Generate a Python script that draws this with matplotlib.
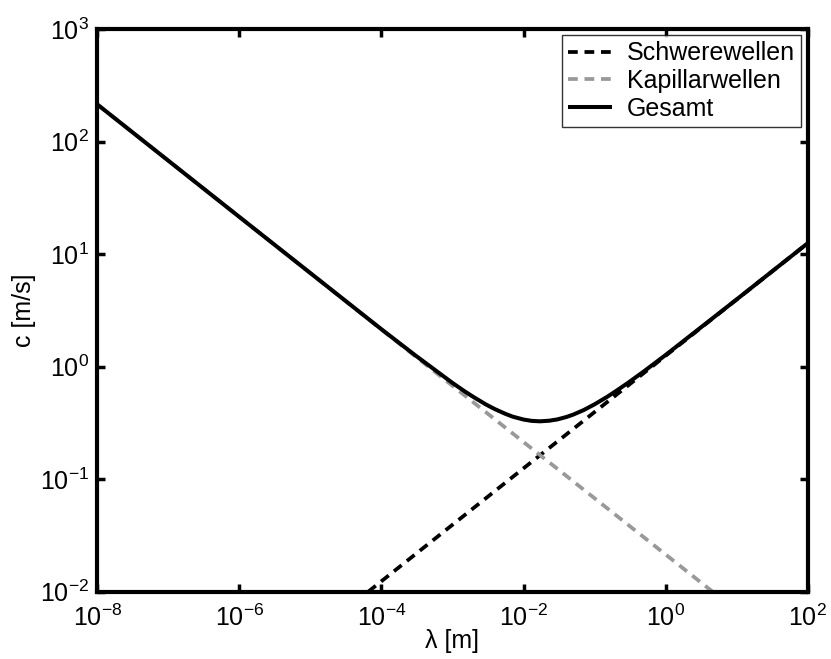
import matplotlib
matplotlib.use("Agg")
import matplotlib.pyplot as plt

plt.rcParams['font.family'] = ['Liberation Sans', 'DejaVu Sans']
plt.rcParams['mathtext.fontset'] = 'custom'
plt.rcParams['mathtext.rm'] = 'Liberation Sans'
plt.rcParams['mathtext.it'] = 'Liberation Sans'
plt.rcParams['mathtext.default'] = 'regular'

# Data (wavelength in m, phase speed in m/s)
grav_lambda = [6.5e-5, 1e-2, 1.0, 100.0]
grav_c = [0.0100, 0.125, 1.25, 12.5]

cap_lambda = [1e-8, 1e-4, 1e-2, 4.6]
cap_c = [214.0, 2.14, 0.214, 0.0100]

total_lambda = [1e-8, 1e-6, 1e-4, 3e-4, 1e-3, 1.5e-3, 2e-3, 3e-3, 4e-3, 5.5e-3,
                7e-3, 1e-2, 1.3e-2, 1.7e-2, 2.3e-2, 3e-2, 4e-2, 5e-2, 7e-2,
                0.1, 0.15, 0.2, 0.3, 0.5, 1.0, 10.0, 100.0]
total_c = [214.0, 21.4, 2.15, 1.26, 0.717, 0.601, 0.535, 0.459, 0.418, 0.382,
           0.360, 0.339, 0.330, 0.327, 0.331, 0.340, 0.357, 0.375, 0.411,
           0.463, 0.539, 0.607, 0.723, 0.913, 1.27, 3.96, 12.5]

xticks = [1e-8, 1e-6, 1e-4, 1e-2, 1e0, 1e2]
xticklabels = ['$10^{-8}$', '$10^{-6}$', '$10^{-4}$', '$10^{-2}$', '$10^{0}$', '$10^{2}$']
yticks = [1e-2, 1e-1, 1e0, 1e1, 1e2, 1e3]
yticklabels = ['$10^{-2}$', '$10^{-1}$', '$10^{0}$', '$10^{1}$', '$10^{2}$', '$10^{3}$']

fig = plt.figure(figsize=(8.31, 6.59), dpi=100)
ax = fig.add_axes([0.117, 0.102, 0.855, 0.854])

dash = (0, (2.6, 1.8))
ax.plot(grav_lambda, grav_c, color='black', lw=2.7, ls=dash,
        label='Schwerewellen')
ax.plot(cap_lambda, cap_c, color='#999999', lw=2.7, ls=dash,
        label='Kapillarwellen')
ax.plot(total_lambda, total_c, color='black', lw=2.9, solid_capstyle='butt',
        label='Gesamt')

ax.set_xscale('log')
ax.set_yscale('log')
ax.set_xlim(1e-8, 1e2)
ax.set_ylim(1e-2, 1e3)
ax.set_xticks(xticks)
ax.set_xticklabels(xticklabels)
ax.set_yticks(yticks)
ax.set_yticklabels(yticklabels)
ax.minorticks_off()
ax.tick_params(which='major', direction='in', length=6, width=2.5,
               top=True, right=True, labelsize=18)
ax.tick_params(axis='x', pad=9)
ax.tick_params(axis='y', pad=6)
for s in ax.spines.values():
    s.set_linewidth(3)

ax.set_xlabel('λ [m]', fontsize=18, labelpad=-1)
ax.set_ylabel('c [m/s]', fontsize=18, labelpad=3)

leg = ax.legend(loc='upper right', fontsize=18, frameon=True, fancybox=False,
                edgecolor='black', handlelength=1.75, borderaxespad=0.25,
                labelspacing=0.15, borderpad=0.25, handletextpad=0.6)
leg.get_frame().set_linewidth(1.0)

fig.savefig('out.png', dpi=100)
